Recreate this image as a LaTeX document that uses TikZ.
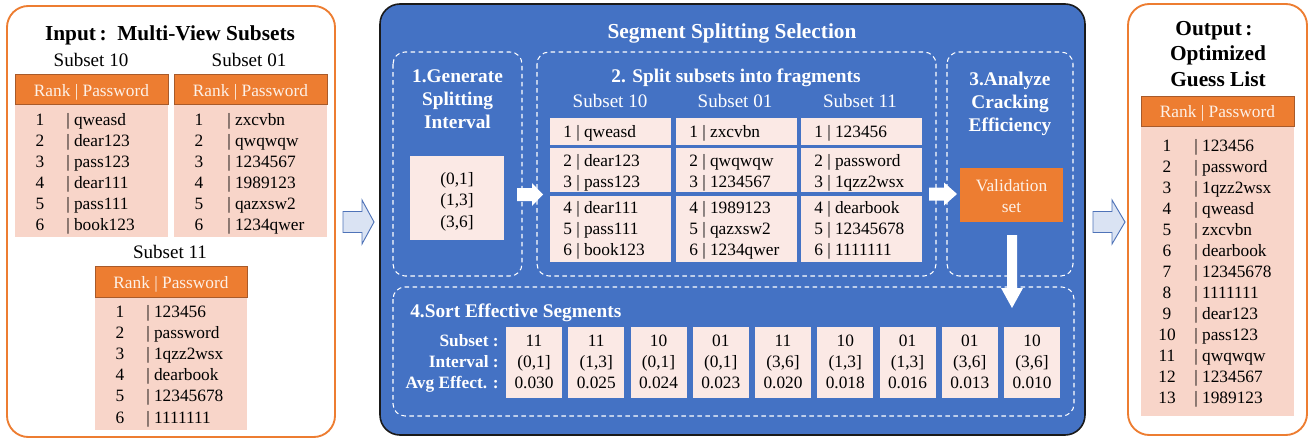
\documentclass[tikz,border=0pt]{standalone}
\usepackage{fontspec}
\setmainfont{Liberation Serif}
\definecolor{orangeC}{HTML}{ED7D31}
\definecolor{pinkbody}{HTML}{F8D5C9}
\definecolor{pinklight}{HTML}{FBE9E5}
\definecolor{blueC}{HTML}{4472C4}
\definecolor{arrowfill}{HTML}{DAE3F3}
\definecolor{arrowline}{HTML}{4F73B8}
\definecolor{hdrline}{HTML}{A85A2A}
\definecolor{hdrtext}{HTML}{FDF1E8}
\definecolor{panelline}{HTML}{1A1A1A}
\tikzset{
  bodytxt/.style={font=\fontsize{13}{16}\selectfont, inner sep=0pt},
  hdrtxt/.style={font=\fontsize{13}{16}\selectfont, text=hdrtext, inner sep=0pt, anchor=base},
  bigtitle/.style={font=\fontsize{16}{19}\selectfont\bfseries, inner sep=0pt, anchor=base},
  steptitle/.style={font=\fontsize{14.5}{17}\selectfont\bfseries, text=white, inner sep=0pt, anchor=base},
  lbltxt/.style={font=\fontsize{13}{16}\selectfont\bfseries, text=white, inner sep=0pt, anchor=base east},
  sublabel/.style={font=\fontsize{14.3}{17}\selectfont, inner sep=0pt, anchor=base},
  outerpanel/.style={draw=orangeC, line width=1.4pt, rounded corners=16pt, fill=white},
  bluepanel/.style={draw=panelline, fill=blueC, line width=1.2pt, rounded corners=15pt},
  hdrbox/.style={fill=orangeC, draw=hdrline, line width=0.5pt},
  bodybox/.style={fill=pinkbody},
  fragbox/.style={fill=pinklight},
  dashbox/.style={draw=white, line width=0.8pt, dash pattern=on 3.5pt off 2.5pt, rounded corners=9pt},
  hollowarrow/.style={fill=arrowfill, draw=arrowline, line width=0.7pt, line join=miter},
  whitearrow/.style={fill=white, draw=none},
  valbox/.style={fill=orangeC, draw=none}
}
\begin{document}
\begin{tikzpicture}[x=0.75pt, y=-0.75pt]
\useasboundingbox (0,0) rectangle (1312,439);

% ================= LEFT PANEL =================
\draw[outerpanel] (7,6) rectangle (335,437);
\node[bigtitle] (intitle) at (170,40) {Input\,:\hspace{0.5em}Multi-View Subsets};
\node[sublabel] (lab10) at (91,66) {Subset 10};
\node[sublabel] (lab01) at (249,66) {Subset 01};
\node[sublabel] (lab11) at (170,258) {Subset 11};

% table 10
\fill[bodybox] (15,104) rectangle (168,237);
\draw[hdrbox] (15,74) rectangle (168,104);
\node[hdrtxt] (h10) at (91.5,96) {Rank | Password};
\foreach \w [count=\i] in {qweasd,dear123,pass123,dear111,pass111,book123} {
  \node[bodytxt, anchor=base] (t10n\i) at ({40},{125+21*(\i-1)}) {\i};
  \node[bodytxt, anchor=base west] (t10p\i) at ({66},{125+21*(\i-1)}) {| \w};
}
% table 01
\fill[bodybox] (174,104) rectangle (327,237);
\draw[hdrbox] (174,74) rectangle (327,104);
\node[hdrtxt] (h01) at (250.5,96) {Rank | Password};
\foreach \w [count=\i] in {zxcvbn,qwqwqw,1234567,1989123,qazxsw2,1234qwer} {
  \node[bodytxt, anchor=base] (t01n\i) at ({199},{125+21*(\i-1)}) {\i};
  \node[bodytxt, anchor=base west] (t01p\i) at ({227},{125+21*(\i-1)}) {| \w};
}
% table 11
\fill[bodybox] (95,297) rectangle (247,430);
\draw[hdrbox] (95,266) rectangle (247,297);
\node[hdrtxt] (h11) at (171,288) {Rank | Password};
\foreach \w [count=\i] in {123456,password,1qzz2wsx,dearbook,12345678,1111111} {
  \node[bodytxt, anchor=base] (t11n\i) at ({120},{317+21.2*(\i-1)}) {\i};
  \node[bodytxt, anchor=base west] (t11p\i) at ({146},{317+21.2*(\i-1)}) {| \w};
}

% hollow arrow left
\draw[hollowarrow] (343,211.5) -- (362,211.5) -- (362,200) -- (374,222) -- (362,244) -- (362,232.5) -- (343,232.5) -- cycle;

% ================= MIDDLE PANEL =================
\draw[bluepanel] (380,4) rectangle (1085,435);
\node[bigtitle, text=white] (midtitle) at (732,38) {Segment Splitting Selection};

% step 1
\draw[dashbox] (393,52) rectangle (522,276);
\node[steptitle] (s1a) at (457.5,82) {1.Generate};
\node[steptitle] (s1b) at (457.5,105) {Splitting};
\node[steptitle] (s1c) at (457.5,128) {Interval};
\fill[fragbox] (410,156) rectangle (504,240);
\node[bodytxt, anchor=base] (iv1) at (457,184) {(0,1]};
\node[bodytxt, anchor=base] (iv2) at (457,205.5) {(1,3]};
\node[bodytxt, anchor=base] (iv3) at (457,227) {(3,6]};

% arrow 1->2
\fill[whitearrow] (517,188) -- (532,188) -- (532,183) -- (543,194.5) -- (532,206) -- (532,201) -- (517,201) -- cycle;

% step 2
\draw[dashbox] (537,52) rectangle (936,276);
\node[steptitle] (s2) at (736,82) {2. Split subsets into fragments};
\node[sublabel, text=white] (f10lab) at (610,107) {Subset 10};
\node[sublabel, text=white] (f01lab) at (735,107) {Subset 01};
\node[sublabel, text=white] (f11lab) at (860,107) {Subset 11};
\foreach \xa/\xb in {550/671,676/797,801/922} {
  \fill[fragbox] (\xa,118) rectangle (\xb,145);
  \fill[fragbox] (\xa,148) rectangle (\xb,192);
  \fill[fragbox] (\xa,196) rectangle (\xb,262);
}
\foreach \w [count=\i] in {qweasd,dear123,pass123,dear111,pass111,book123} {
  \pgfmathsetmacro{\yy}{{137,166,187,213,234,255}[\i-1]}
  \node[bodytxt, anchor=base west] (fa\i) at (563,\yy) {\i\ | \w};
}
\foreach \w [count=\i] in {zxcvbn,qwqwqw,1234567,1989123,qazxsw2,1234qwer} {
  \pgfmathsetmacro{\yy}{{137,166,187,213,234,255}[\i-1]}
  \node[bodytxt, anchor=base west] (fb\i) at (689,\yy) {\i\ | \w};
}
\foreach \w [count=\i] in {123456,password,1qzz2wsx,dearbook,12345678,1111111} {
  \pgfmathsetmacro{\yy}{{137,166,187,213,234,255}[\i-1]}
  \node[bodytxt, anchor=base west] (fc\i) at (814,\yy) {\i\ | \w};
}

% arrow 2->3
\fill[whitearrow] (929,187.5) -- (944,187.5) -- (944,182.5) -- (957,194) -- (944,205.5) -- (944,200.5) -- (929,200.5) -- cycle;

% step 3
\draw[dashbox] (947,52) rectangle (1073,276);
\node[steptitle] (s3a) at (1010,85) {3.Analyze};
\node[steptitle] (s3b) at (1010,108) {Cracking};
\node[steptitle] (s3c) at (1010,131) {Efficiency};
\fill[valbox] (960,168) rectangle (1063,222);
\node[bodytxt, anchor=base, text=hdrtext] (val1) at (1011.5,191) {Validation};
\node[bodytxt, anchor=base, text=hdrtext] (val2) at (1011.5,212) {set};

% down arrow
\fill[whitearrow] (1007,235) -- (1017,235) -- (1017,288) -- (1023,288) -- (1012,308) -- (1001,288) -- (1007,288) -- cycle;

% step 4
\draw[dashbox] (393,287) rectangle (1074,416);
\node[steptitle, anchor=base west] (s4) at (410,317) {4.Sort Effective Segments};
\node[lbltxt] (l1) at (499,346) {Subset :};
\node[lbltxt] (l2) at (499,367) {Interval :};
\node[lbltxt] (l3) at (499,388) {Avg Effect. :};
\foreach \s/\iv/\e [count=\i from 0] in {{11/(0,1]/0.030},{11/(1,3]/0.025},{10/(0,1]/0.024},{01/(0,1]/0.023},{11/(3,6]/0.020},{10/(1,3]/0.018},{01/(1,3]/0.016},{01/(3,6]/0.013},{10/(3,6]/0.010}} {
  \pgfmathsetmacro{\xl}{506+62.25*\i}
  \fill[fragbox] (\xl,327) rectangle ({\xl+56},398);
  \node[bodytxt, anchor=base] (seg\i a) at ({\xl+28},346) {\s};
  \node[bodytxt, anchor=base] (seg\i b) at ({\xl+28},367) {\iv};
  \node[bodytxt, anchor=base] (seg\i c) at ({\xl+28},388) {\e};
}

% hollow arrow right
\draw[hollowarrow] (1093,211.5) -- (1112,211.5) -- (1112,200) -- (1125,222) -- (1112,244) -- (1112,232.5) -- (1093,232.5) -- cycle;

% ================= RIGHT PANEL =================
\draw[outerpanel] (1128,4) rectangle (1307,435);
\node[bigtitle] (o1) at (1214,35) {Output\,:};
\node[bigtitle] (o2) at (1218,60) {Optimized};
\node[bigtitle] (o3) at (1218,86) {Guess List};
\fill[bodybox] (1141,126) rectangle (1294,416);
\draw[hdrbox] (1141,96) rectangle (1294,126);
\node[hdrtxt] (ho) at (1217.5,117) {Rank | Password};
\foreach \w [count=\i] in {123456,password,1qzz2wsx,qweasd,zxcvbn,dearbook,12345678,1111111,dear123,pass123,qwqwqw,1234567,1989123} {
  \node[bodytxt, anchor=base] (on\i) at ({1167},{151+21.08*(\i-1)}) {\i};
  \node[bodytxt, anchor=base west] (op\i) at ({1194},{151+21.08*(\i-1)}) {| \w};
}
\end{tikzpicture}
\end{document}
